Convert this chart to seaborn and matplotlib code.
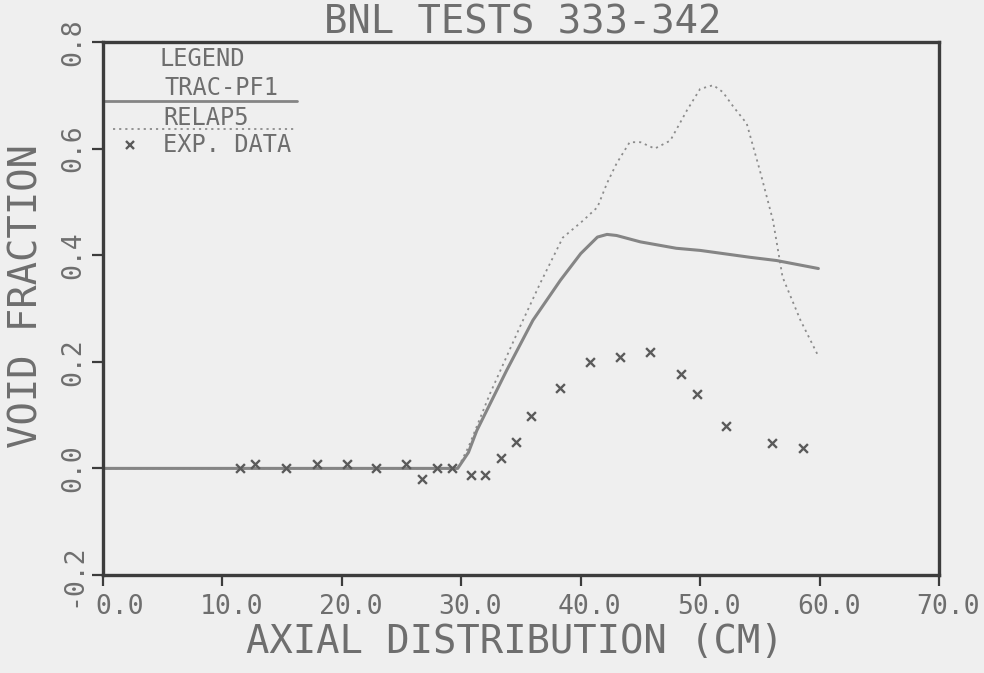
import matplotlib
matplotlib.use("Agg")
import matplotlib.pyplot as plt
import matplotlib.transforms as mtransforms
import seaborn as sns
import pandas as pd

# TRAC-PF1 prediction
trac_x = [0.0, 10.0, 20.0, 29.7, 30.6, 31.3, 33.8, 36.0, 38.3, 40.0, 41.4,
          42.2, 43.0, 45.0, 48.0, 50.0, 54.2, 56.4, 59.9]
trac_y = [0.0, 0.0, 0.0, 0.0, 0.03, 0.071, 0.184, 0.278, 0.353, 0.403, 0.434,
          0.439, 0.437, 0.425, 0.413, 0.409, 0.396, 0.390, 0.375]

# RELAP5 prediction
relap_x = [0.0, 10.0, 20.0, 29.7, 30.6, 32.4, 34.9, 36.6, 38.5, 40.2, 41.4,
           42.2, 43.0, 44.1, 45.0, 46.2, 47.5, 48.9, 50.0, 51.1, 51.9, 52.8,
           53.9, 55.0, 56.1, 56.9, 58.4, 59.8]
relap_y = [0.0, 0.0, 0.0, 0.0, 0.04, 0.14, 0.265, 0.347, 0.433, 0.465, 0.49,
           0.535, 0.572, 0.612, 0.612, 0.600, 0.615, 0.672, 0.712, 0.719,
           0.706, 0.678, 0.647, 0.559, 0.465, 0.359, 0.278, 0.215]

# Measured void fraction
exp_x = [11.5, 12.7, 15.3, 17.9, 20.4, 22.9, 25.4, 26.7, 28.0, 29.2, 30.8,
         32.0, 33.3, 34.6, 35.8, 38.3, 40.8, 43.3, 45.8, 48.4, 49.7, 52.2,
         56.0, 58.6]
exp_y = [0.0, 0.008, 0.0, 0.008, 0.008, 0.0, 0.008, -0.02, 0.0, 0.0, -0.012,
         -0.012, 0.02, 0.049, 0.099, 0.15, 0.199, 0.209, 0.218, 0.178, 0.139,
         0.079, 0.047, 0.038]

x_ticks = [0, 10, 20, 30, 40, 50, 60, 70]
x_tick_labels = [" 0.0", "10.0", "20.0", "30.0", "40.0", "50.0", "60.0", "70.0"]
y_ticks = [-0.2, 0.0, 0.2, 0.4, 0.6, 0.8]
y_tick_labels = ["-0.2", "0.0", "0.2", "0.4", "0.6", "0.8"]

title = "BNL TESTS 333-342"
x_label = "AXIAL DISTRIBUTION (CM)"
y_label = "VOID FRACTION"

sns.set_theme(style="white")
plt.rcParams["font.family"] = ["DejaVu Sans Mono", "DejaVu Sans"]

bg = "#efefef"
text_col = "#6e6e6e"
frame_col = "#3c3c3c"

fig = plt.figure(figsize=(9.84, 6.73), dpi=100, facecolor=bg)
ax = fig.add_axes([103 / 984, 1 - 575 / 673, 836 / 984, 533 / 673])
ax.set_facecolor(bg)

trac = pd.DataFrame({"x": trac_x, "y": trac_y})
relap = pd.DataFrame({"x": relap_x, "y": relap_y})
exp = pd.DataFrame({"x": exp_x, "y": exp_y})

sns.lineplot(data=relap, x="x", y="y", ax=ax, sort=False, estimator=None,
             color="#8c8c8c", lw=1.3, linestyle=(0, (1.2, 2.2)))
sns.lineplot(data=trac, x="x", y="y", ax=ax, sort=False, estimator=None,
             color="#858585", lw=2.2)
sns.scatterplot(data=exp, x="x", y="y", ax=ax, marker="x", s=40,
                color="#5a5a5a", linewidth=1.7, zorder=5)

ax.set_xlim(0, 70)
ax.set_ylim(-0.2, 0.8)
ax.set_xticks(x_ticks)
ax.set_xticklabels(x_tick_labels)
ax.set_yticks(y_ticks)
ax.set_yticklabels(y_tick_labels, rotation=90, va="center")

for s in ax.spines.values():
    s.set_visible(True)
    s.set_color(frame_col)
    s.set_linewidth(2.4)

ax.tick_params(axis="both", which="major", direction="out", length=8,
               width=1.6, color=frame_col, labelsize=19, labelcolor=text_col,
               bottom=True, left=True, top=False, right=False)
ax.tick_params(axis="x", pad=6)
ax.tick_params(axis="y", pad=4)

# plotter-style labels sit slightly right of their tick
shift = mtransforms.ScaledTranslation(9 / 100, 0, fig.dpi_scale_trans)
for lab in ax.get_xticklabels():
    lab.set_transform(lab.get_transform() + shift)

ax.set_xlabel(x_label, fontsize=28, color=text_col, va="center")
ax.xaxis.set_label_coords(0.493, -0.126)
ax.set_ylabel(y_label, fontsize=28, color=text_col, va="center")
ax.yaxis.set_label_coords(-0.092, 0.523)

fig.text(523 / 984, 1 - 34 / 673, title, ha="center", va="baseline",
         fontsize=28, color=text_col)

# Hand-built legend box in the upper-left corner
leg_kw = dict(transform=ax.transAxes, fontsize=17, color=text_col,
              va="baseline", ha="left")
ax.text(0.068, 0.955, "LEGEND", **leg_kw)
ax.text(0.074, 0.901, "TRAC-PF1", **leg_kw)
ax.plot([0.0, 0.232], [0.889, 0.889], transform=ax.transAxes,
        color="#858585", lw=2.0, clip_on=False)
ax.text(0.072, 0.844, "RELAP5", **leg_kw)
ax.plot([0.012, 0.232], [0.837, 0.837], transform=ax.transAxes,
        color="#8c8c8c", lw=1.3, linestyle=(0, (1.2, 2.2)))
ax.text(0.072, 0.794, "EXP. DATA", **leg_kw)
ax.plot([0.032], [0.807], transform=ax.transAxes, marker="x", ms=6,
        mew=1.7, color="#5a5a5a", linestyle="none")

fig.savefig("out.png", dpi=100, facecolor=bg)
